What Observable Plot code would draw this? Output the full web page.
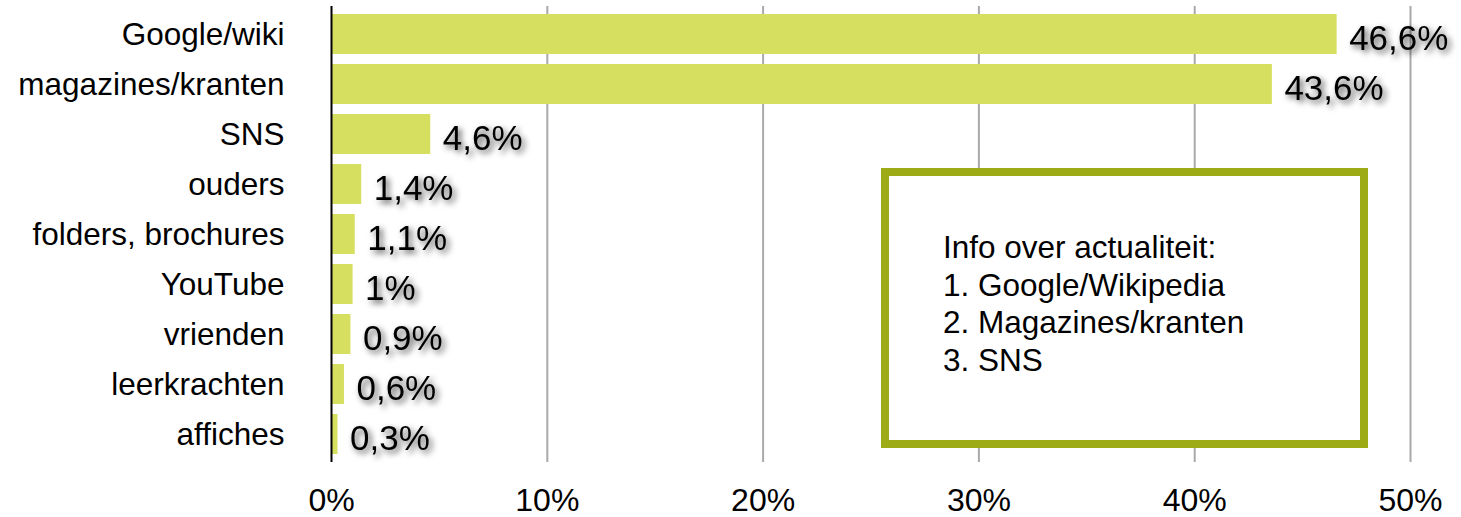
<!DOCTYPE html>
<html>
<head>
<meta charset="utf-8">
<script src="https://cdn.jsdelivr.net/npm/d3@7"></script>
<script src="https://cdn.jsdelivr.net/npm/@observablehq/plot@0.6"></script>
<style>
  html, body { margin: 0; padding: 0; background: #fff; }
  #wrap { position: relative; width: 1461px; height: 517px; font-family: "Liberation Sans", Arial, Helvetica, sans-serif; }
  #wrap svg { display: block; }
  .vals text { filter: drop-shadow(3px 3px 3px rgba(0,0,0,0.7)); }
  #note {
    position: absolute; left: 881px; top: 168px; width: 487px; height: 280px;
    box-sizing: border-box; border: 8px solid #9dab16; background: #fff;
    padding: 53px 0 0 54px; font-size: 31.5px; line-height: 37.5px; color: #000;
  }
</style>
</head>
<body>
<div id="wrap"></div>
<script>
const categories = ["Google/wiki", "magazines/kranten", "SNS", "ouders", "folders, brochures", "YouTube", "vrienden", "leerkrachten", "affiches"];
const values = [46.6, 43.6, 4.6, 1.4, 1.1, 1, 0.9, 0.6, 0.3];
const xTicks = [0, 10, 20, 30, 40, 50];
const noteLines = ["Info over actualiteit:", "1. Google/Wikipedia", "2. Magazines/kranten", "3. SNS"];

const data = categories.map((c, i) => ({cat: c, v: values[i], label: String(values[i]).replace(".", ",") + "%"}));

const chart = Plot.plot({
  width: 1461,
  height: 517,
  marginLeft: 331,
  marginRight: 51,
  marginTop: 6,
  marginBottom: 55,
  style: {fontFamily: '"Liberation Sans", Arial, Helvetica, sans-serif', color: "#000", background: "#fff"},
  x: {domain: [0, 50], ticks: xTicks, tickFormat: d => d + "%", label: null, tickSize: 0, tickPadding: 26},
  y: {domain: categories, label: null, tickSize: 0, tickPadding: 47, paddingInner: 0.2, paddingOuter: 0.1},
  marks: [
    Plot.gridX(xTicks.filter(t => t > 0), {stroke: "#a9a9a9", strokeOpacity: 1, strokeWidth: 2}),
    Plot.barX(data, {x: "v", y: "cat", fill: "#d6df60"}),
    Plot.ruleX([0], {stroke: "#000", strokeWidth: 2}),
    Plot.axisX({ticks: xTicks, tickFormat: d => d + "%", tickSize: 0, tickPadding: 26, fontSize: 32, label: null}),
    Plot.axisY({tickSize: 0, tickPadding: 47, fontSize: 31.5, label: null}),
    Plot.text(data, {x: "v", y: "cat", text: "label", textAnchor: "start", dx: 12, dy: 4, fontSize: 35, fill: "#000", className: "vals"})
  ]
});

const wrap = document.getElementById("wrap");
wrap.appendChild(chart);
const note = document.createElement("div");
note.id = "note";
note.innerHTML = noteLines.map(l => `<div>${l}</div>`).join("");
wrap.appendChild(note);
</script>
</body>
</html>
